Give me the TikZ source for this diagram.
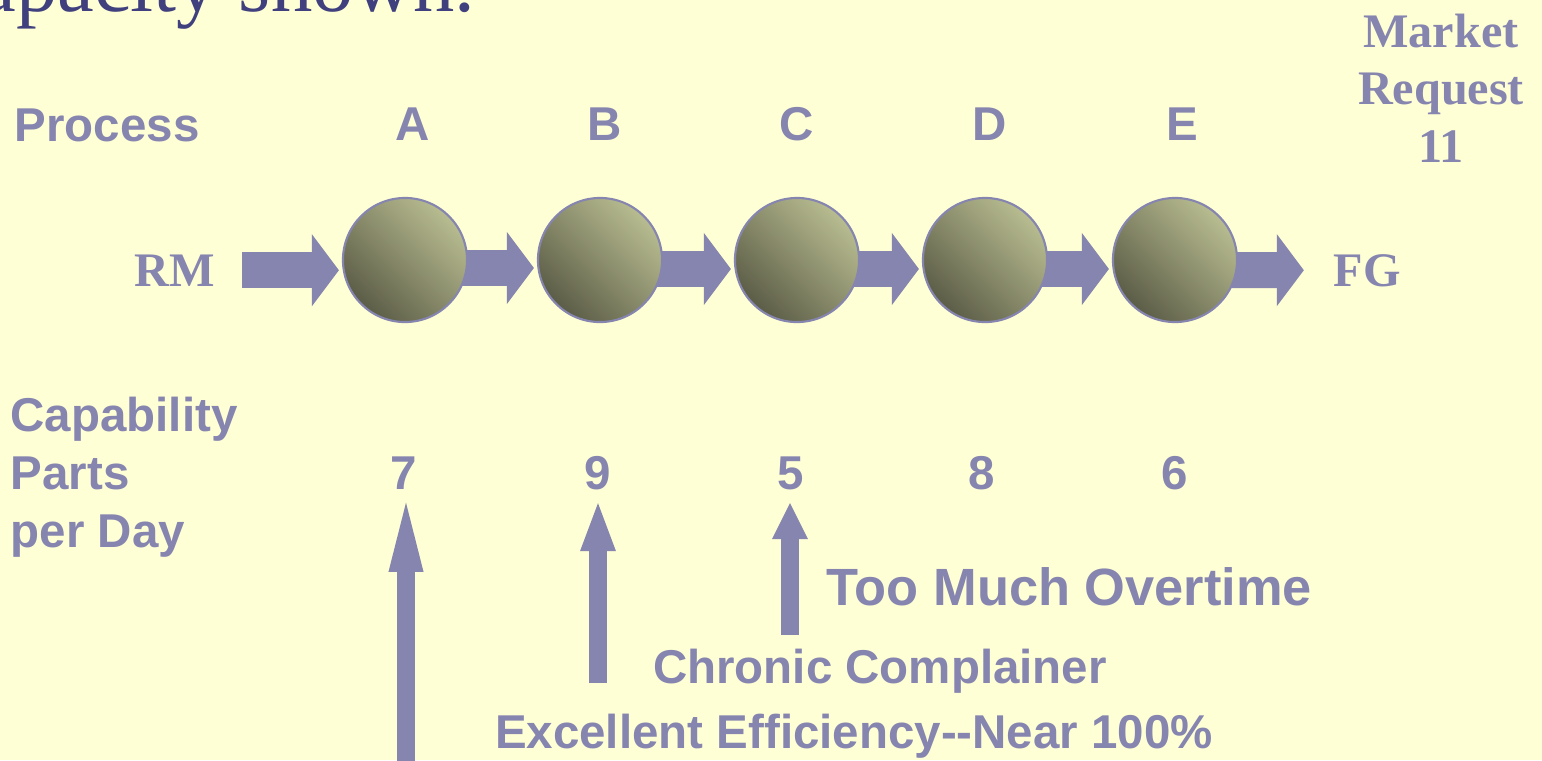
\documentclass[tikz,border=0pt]{standalone}
\usepackage{fontspec}
\setmainfont{Liberation Serif}
\setsansfont{Liberation Sans}
\usetikzlibrary{arrows.meta}

\definecolor{paper}{HTML}{FFFFD5}
\definecolor{slate}{HTML}{8585B0}
\definecolor{ink}{HTML}{40407F}
\definecolor{olivelight}{HTML}{B8BC90}
\definecolor{olivedark}{HTML}{5C5D47}

\pgfdeclarelayer{bg}
\pgfdeclarelayer{flows}
\pgfsetlayers{bg,flows,main}

\begin{document}
\begin{tikzpicture}[x=0.01cm, y=-0.01cm,
    lbl/.style={inner sep=0pt, text=slate, font=\sffamily\bfseries\fontsize{13.5}{16.6}\selectfont},
    serif/.style={inner sep=0pt, text=slate, font=\rmfamily\bfseries\fontsize{13.7}{16.4}\selectfont},
    proc/.style={circle, minimum size=1.24cm, inner sep=0pt, draw=slate, line width=0.6pt,
        shade, top color=olivelight, bottom color=olivedark, shading angle=-45},
    flow/.style={slate, line width=0.36cm, shorten >=0.03cm,
        -{Triangle[length=0.27cm, width=0.72cm, line width=0pt]}},
    rise/.style={slate, line width=0.18cm, shorten >=0.13cm}]
    % Page
    \useasboundingbox (0,0) rectangle (1542,760);
    \clip (0,0) rectangle (1542,760);
    \begin{pgfonlayer}{bg}
        \fill[paper] (0,0) rectangle (1542,760);
    \end{pgfonlayer}

    % Heading, cut off at the top
    \node[inner sep=0pt, text=ink, font=\rmfamily\fontsize{23.5}{27}\selectfont, anchor=base east] (head) at (476,11) {capacity shown.};

    % Column heads
    \node[lbl, anchor=base west] (process) at (14,141) {Process};
    \node[lbl, anchor=base] (hA) at (413,140) {A};
    \node[lbl, anchor=base] (hB) at (605,140) {B};
    \node[lbl, anchor=base] (hC) at (797,140) {C};
    \node[lbl, anchor=base] (hD) at (990,140) {D};
    \node[lbl, anchor=base] (hE) at (1182,140) {E};
    \node[serif, align=center, anchor=north] (market) at (1441,13) {Market\\Request\\11};

    % Processes
    \node[serif, anchor=base] (rm) at (175,286) {RM};
    \node[proc] (cA) at (405,260) {};
    \node[proc] (cB) at (600,260) {};
    \node[proc] (cC) at (797,260) {};
    \node[proc] (cD) at (985,260) {};
    \node[proc] (cE) at (1175,260) {};
    \node[serif, anchor=base] (fg) at (1367,286) {FG};

    % Flow arrows, behind the circles
    \begin{pgfonlayer}{flows}
        \draw[flow] ([xshift=0.26cm]rm.east) -- (rm.east -| cA.west);
        \draw[flow] ([yshift=-0.08cm]cA.center) -- ([yshift=-0.08cm]cB.west);
        \draw[flow] ([yshift=-0.09cm]cB.center) -- ([yshift=-0.09cm]cC.west);
        \draw[flow] ([yshift=-0.09cm]cC.center) -- ([yshift=-0.09cm]cD.west);
        \draw[flow] ([yshift=-0.09cm]cD.center) -- ([yshift=-0.09cm]cE.west);
        \draw[flow] ([yshift=-0.1cm]cE.center) -- ([xshift=-0.26cm]fg.west);
    \end{pgfonlayer}

    % Capability
    \node[lbl, align=left, anchor=north west] (cap) at (10,396) {Capability\\Parts\\per Day};
    \node[lbl, anchor=base] (nA) at (404,489) {7};
    \node[lbl, anchor=base] (nB) at (598,489) {9};
    \node[lbl, anchor=base] (nC) at (791,489) {5};
    \node[lbl, anchor=base] (nD) at (982,489) {8};
    \node[lbl, anchor=base] (nE) at (1175,489) {6};

    % Rising arrows
    \coordinate (footA) at (406,775);
    \coordinate (footB) at (598,683);
    \coordinate (footC) at (790,635);
    \draw[rise, -{Triangle[length=0.69cm, width=0.35cm, line width=0pt]}] (footA) -- (footA |- nA.south);
    \draw[rise, -{Triangle[length=0.48cm, width=0.36cm, line width=0pt]}] (footB) -- (footB |- nB.south);
    \draw[rise, -{Triangle[length=0.36cm, width=0.36cm, line width=0pt]}] (footC) -- (footC |- nC.south);

    % Remarks
    \node[lbl, font=\sffamily\bfseries\fontsize{14.9}{18}\selectfont, anchor=base west] (overtime) at (826,605) {Too Much Overtime};
    \node[lbl, anchor=base] (complainer) at (880,683) {Chronic Complainer};
    \node[lbl, anchor=base] (efficiency) at (854,748) {Excellent Efficiency-{}-Near 100\%};
\end{tikzpicture}
\end{document}
